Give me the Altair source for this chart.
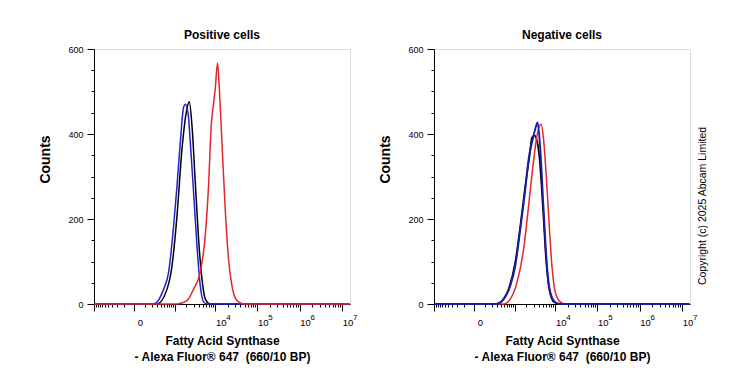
import altair as alt
import pandas as pd

# ---------------- data (intensity, counts) ----------------
pos_black_x = [-1000, 304, 613, 843, 1145, 1541, 1979, 2350, 2740, 3304, 3976, 4809, 5775, 7613, 15000000]
pos_black_y = [0, 0, 35, 90, 208, 365, 451, 476, 420, 287, 153, 59, 12, 0, 0]

pos_blue_x = [-1000, 231, 489, 680, 931, 1145, 1394, 1692, 1868, 2181, 2489, 3001, 3635, 4372, 5256, 6348, 15000000]
pos_blue_y = [0, 0, 35, 75, 184, 278, 381, 463, 470, 451, 381, 263, 137, 43, 5, 0, 0]

pos_red_x = [-1000, 1145, 2060, 3001, 4372, 5775, 6934, 8046, 8838, 10025, 11375, 12700, 14480, 17350, 20780, 25020, 32860, 47080, 15000000]
pos_red_y = [0, 0, 8, 35, 75, 161, 278, 420, 459, 506, 567, 499, 381, 224, 106, 43, 8, 0, 0]

neg_black_x = [-1000, 250, 388, 680, 1033, 1394, 1868, 2391, 2740, 3176, 3635, 4206, 5085, 6105, 7325, 9495, 13200, 15000000]
neg_black_y = [0, 0, 4, 35, 99, 184, 278, 349, 392, 396, 384, 341, 224, 99, 31, 4, 0, 0]

neg_blue_x = [-1000, 304, 489, 758, 1033, 1394, 1868, 2259, 2740, 3304, 3759, 4372, 5256, 6348, 7613, 10025, 13200, 15000000]
neg_blue_y = [0, 0, 12, 43, 90, 176, 270, 341, 380, 412, 427, 365, 224, 90, 28, 4, 0, 0]

neg_red_x = [-1000, 489, 758, 1145, 1692, 2259, 2901, 3635, 4624, 5256, 6105, 7205, 8363, 10025, 13200, 17350, 15000000]
neg_red_y = [0, 0, 12, 51, 129, 231, 325, 396, 423, 388, 302, 184, 90, 28, 5, 0, 0]

panel_titles = ["Positive cells", "Negative cells"]
x_title = ["Fatty Acid Synthase", "- Alexa Fluor\u00ae 647 \u00a0(660/10 BP)"]
y_title = "Counts"
copyright_text = "Copyright (c) 2025 Abcam Limited"

x_major = [-1000, 0, 1000, 10000, 100000, 1000000, 10000000]
x_label_values = [0, 10000, 100000, 1000000, 10000000]
x_label_base = ["0", "10", "10", "10", "10"]
x_label_exp = ["", "4", "5", "6", "7"]
x_minor = ([-m * 100 for m in range(1, 10)] + [m * 100 for m in range(1, 10)]
           + [m * 10 ** k for k in (3, 4, 5, 6) for m in range(2, 10)])
x_ticks = sorted(x_major + x_minor)

y_ticks = [0, 50, 100, 150, 200, 250, 300, 350, 400, 450, 500, 550, 600]
y_major = [0, 200, 400, 600]

FONT = "Liberation Sans"
PLOT_W, PLOT_H = 256, 255


def frame(series):
    rows = []
    for name, xs, ys in series:
        for a, b in zip(xs, ys):
            rows.append({"series": name, "x": a, "y": b})
    return pd.DataFrame(rows)


x_axis = alt.Axis(
    values=x_ticks,
    labelExpr="''",
    labelPadding=0,
    labelFontSize=1,
    labelOverlap=False,
    tickSize={"condition": {"test": f"indexof({x_major}, datum.value) >= 0", "value": 7}, "value": 3},
    grid=False,
    domainColor="black",
    tickColor="black",
    title=x_title,
    titleFont=FONT,
    titleFontSize=12,
    titleFontWeight="bold",
    titleColor="black",
    titlePadding=23,
    titleLineHeight=16,
)

y_axis = alt.Axis(
    values=y_ticks,
    labelExpr=f"indexof({y_major}, datum.value) >= 0 ? datum.label : ''",
    tickSize={"condition": {"test": f"indexof({y_major}, datum.value) >= 0", "value": 7}, "value": 3},
    labelPadding=4,
    labelFontSize=9,
    labelFont=FONT,
    labelColor="black",
    labelOverlap=False,
    grid=False,
    domainColor="black",
    tickColor="black",
    title=y_title,
    titleFont=FONT,
    titleFontSize=14,
    titleFontWeight="bold",
    titleColor="black",
    titleX=-49,
    titleY=110,
    titleBaseline="middle",
)

x_scale = alt.Scale(type="symlog", constant=125, domain=[-1000, 15500000], nice=False, zero=False)
y_scale = alt.Scale(domain=[0, 600], nice=False, zero=False)

labels_df = pd.DataFrame({"v": x_label_values, "base": x_label_base, "exp": x_label_exp})


def label_layers():
    base = alt.Chart(labels_df).mark_text(
        font=FONT, fontSize=9.5, color="black", align="center", baseline="middle", dx=6
    ).encode(x=alt.X("v:Q", scale=x_scale, axis=x_axis), y=alt.value(PLOT_H + 19), text="base:N")
    exp = alt.Chart(labels_df).mark_text(
        font=FONT, fontSize=8, color="black", align="left", baseline="middle", dx=11
    ).encode(x=alt.X("v:Q", scale=x_scale, axis=x_axis), y=alt.value(PLOT_H + 14), text="exp:N")
    return [base, exp]


def panel(title, series, colors, widths, extra=None):
    df = frame(series)
    layers = []
    for (name, _, _), col, w in zip(series, colors, widths):
        layers.append(
            alt.Chart(df)
            .transform_filter(alt.datum.series == name)
            .mark_line(color=col, strokeWidth=w, interpolate="monotone")
            .encode(x=alt.X("x:Q", scale=x_scale, axis=x_axis),
                    y=alt.Y("y:Q", scale=y_scale, axis=y_axis))
        )
    layers += label_layers()
    if extra is not None:
        layers.append(extra)
    return alt.layer(*layers).properties(
        width=PLOT_W, height=PLOT_H,
        title=alt.TitleParams(title, font=FONT, fontSize=12, fontWeight="bold", color="black", offset=3),
    )


left = panel(
    panel_titles[0],
    [("black", pos_black_x, pos_black_y), ("blue", pos_blue_x, pos_blue_y), ("red", pos_red_x, pos_red_y)],
    ["#000000", "#2222cc", "#e3262b"],
    [1.5, 1.5, 1.5],
)

copy_layer = alt.Chart(pd.DataFrame({"t": [copyright_text]})).mark_text(
    angle=270, font=FONT, fontSize=10.5, color="black"
).encode(x=alt.value(269), y=alt.value(157), text="t:N")

right = panel(
    panel_titles[1],
    [("black", neg_black_x, neg_black_y), ("red", neg_red_x, neg_red_y), ("blue", neg_blue_x, neg_blue_y)],
    ["#000000", "#e3262b", "#1c1ca6"],
    [1.7, 1.5, 1.9],
    extra=copy_layer,
)

chart = (
    alt.hconcat(left, right, spacing=84, bounds="flush")
    .properties(padding={"left": 29, "top": 20, "right": 5, "bottom": 5})
    .configure_view(stroke="black", strokeWidth=1, fill="white")
    .configure(background="white")
)

chart.save("out.html", embed_options={"renderer": "svg", "actions": False})
